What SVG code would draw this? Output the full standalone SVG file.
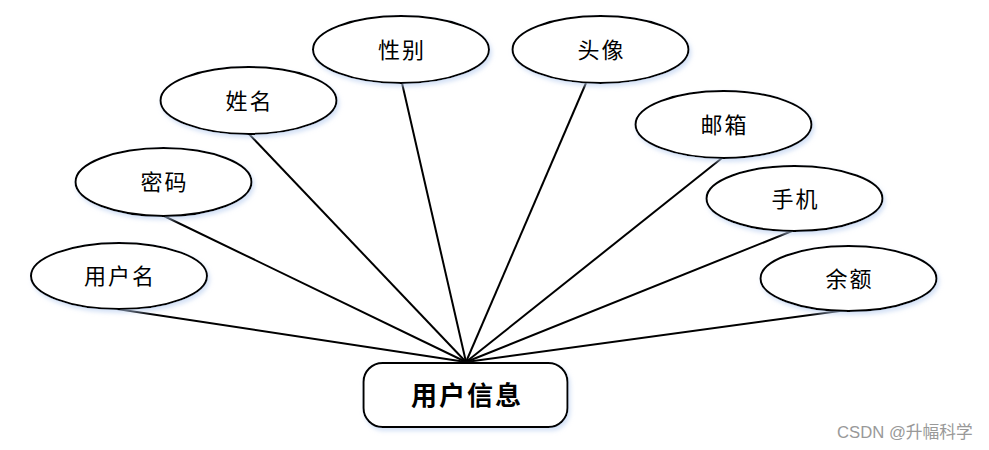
<svg xmlns="http://www.w3.org/2000/svg" width="989" height="450" viewBox="0 0 989 450">
<defs>
<filter id="glow" x="-20%" y="-30%" width="140%" height="160%">
<feDropShadow dx="2" dy="3" stdDeviation="2" flood-color="#b9cff0" flood-opacity="0.6"/>
</filter>
</defs>
<style>
.attr ellipse{fill:#fff;stroke:#000;stroke-width:2;filter:url(#glow)}
.attr text{font-family:"Noto Sans CJK SC","Liberation Sans",sans-serif;font-size:22px;letter-spacing:2px;fill:#000;text-anchor:middle;dominant-baseline:central}
.conn line{stroke:#000;stroke-width:2}
#entity rect{fill:#fff;stroke:#000;stroke-width:2;filter:url(#glow)}
#entity text{font-family:"Noto Sans CJK SC","Liberation Sans",sans-serif;font-size:26px;font-weight:bold;letter-spacing:2px;fill:#000;text-anchor:middle;dominant-baseline:central}
.wm{font-family:"Liberation Sans","Noto Sans CJK SC",sans-serif;font-size:16.7px;fill:#999}
</style>
<rect width="989" height="450" fill="#fff"/>
<g id="connectors" class="conn">
<line x1="117" y1="309" x2="466" y2="362"/>
<line x1="164" y1="216" x2="466" y2="362"/>
<line x1="249" y1="134" x2="466" y2="362"/>
<line x1="402" y1="83" x2="466" y2="362"/>
<line x1="586" y1="83" x2="466" y2="362"/>
<line x1="722" y1="158" x2="466" y2="362"/>
<line x1="792" y1="231" x2="466" y2="362"/>
<line x1="847" y1="310" x2="466" y2="362"/>
</g>
<g id="n-yonghuming" class="attr"><ellipse cx="119" cy="276" rx="88" ry="33"/><text x="120" y="274">用户名</text></g>
<g id="n-mima" class="attr"><ellipse cx="163.5" cy="182" rx="88" ry="34"/><text x="164.5" y="180">密码</text></g>
<g id="n-xingming" class="attr"><ellipse cx="248.5" cy="100.5" rx="88" ry="33.5"/><text x="249.5" y="98.5">姓名</text></g>
<g id="n-xingbie" class="attr"><ellipse cx="401" cy="49.5" rx="88" ry="33.5"/><text x="402" y="47.5">性别</text></g>
<g id="n-touxiang" class="attr"><ellipse cx="600.5" cy="49.5" rx="88" ry="33.5"/><text x="601.5" y="47.5">头像</text></g>
<g id="n-youxiang" class="attr"><ellipse cx="723.5" cy="124.5" rx="88" ry="33.5"/><text x="724.5" y="122.5">邮箱</text></g>
<g id="n-shouji" class="attr"><ellipse cx="794.5" cy="198.5" rx="88" ry="32.5"/><text x="795.5" y="196.5">手机</text></g>
<g id="n-yue" class="attr"><ellipse cx="848.5" cy="278.5" rx="88" ry="32.5"/><text x="849.5" y="276.5">余额</text></g>
<g id="entity"><rect x="363.5" y="363" width="204" height="64" rx="19" ry="19"/><text x="467" y="393">用户信息</text></g>
<text class="wm" x="837" y="438">CSDN @升幅科学</text>
</svg>
